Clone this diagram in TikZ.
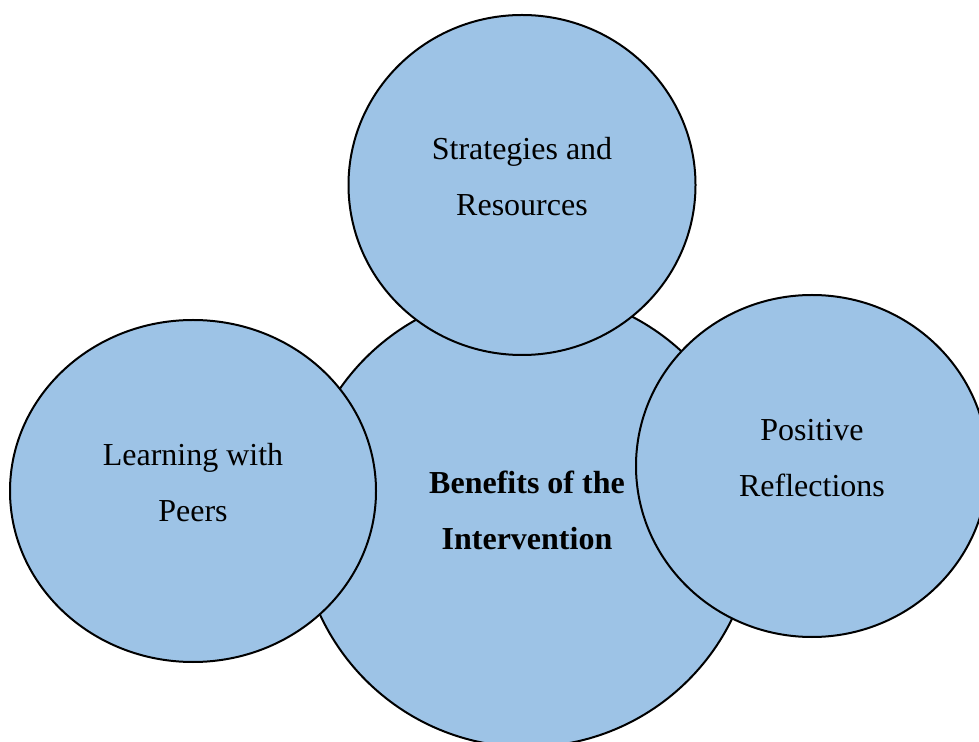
\documentclass[tikz,border=0pt]{standalone}
\usepackage{fontspec}
\setmainfont{Liberation Serif}
\usetikzlibrary{shapes.geometric}
\definecolor{bubblefill}{RGB}{157,195,230}
\begin{document}
\begin{tikzpicture}[x=0.5pt,y=-0.5pt]
   \tikzstyle{bubble}=[ellipse, draw=black, line width=1pt, fill=bubblefill,
     inner sep=0pt, align=center, text depth=8.5pt, font=\fontsize{16}{28}\selectfont]
   \useasboundingbox (0,0) rectangle (979,742);
   % middle bubble first, the others overlap it
   \node[bubble, minimum width=228pt, minimum height=228pt, font=\fontsize{16}{28}\selectfont\bfseries]
     (benefits) at (527,519) {Benefits of the\\Intervention};
   \node[bubble, minimum width=173.5pt, minimum height=170pt]
     (strategies) at (522,185) {Strategies and\\Resources};
   \node[bubble, minimum width=183pt, minimum height=171pt]
     (peers) at (193,491) {Learning with\\Peers};
   \node[bubble, minimum width=176pt, minimum height=171pt]
     (reflections) at (812,466) {Positive\\Reflections};
\end{tikzpicture}
\end{document}
